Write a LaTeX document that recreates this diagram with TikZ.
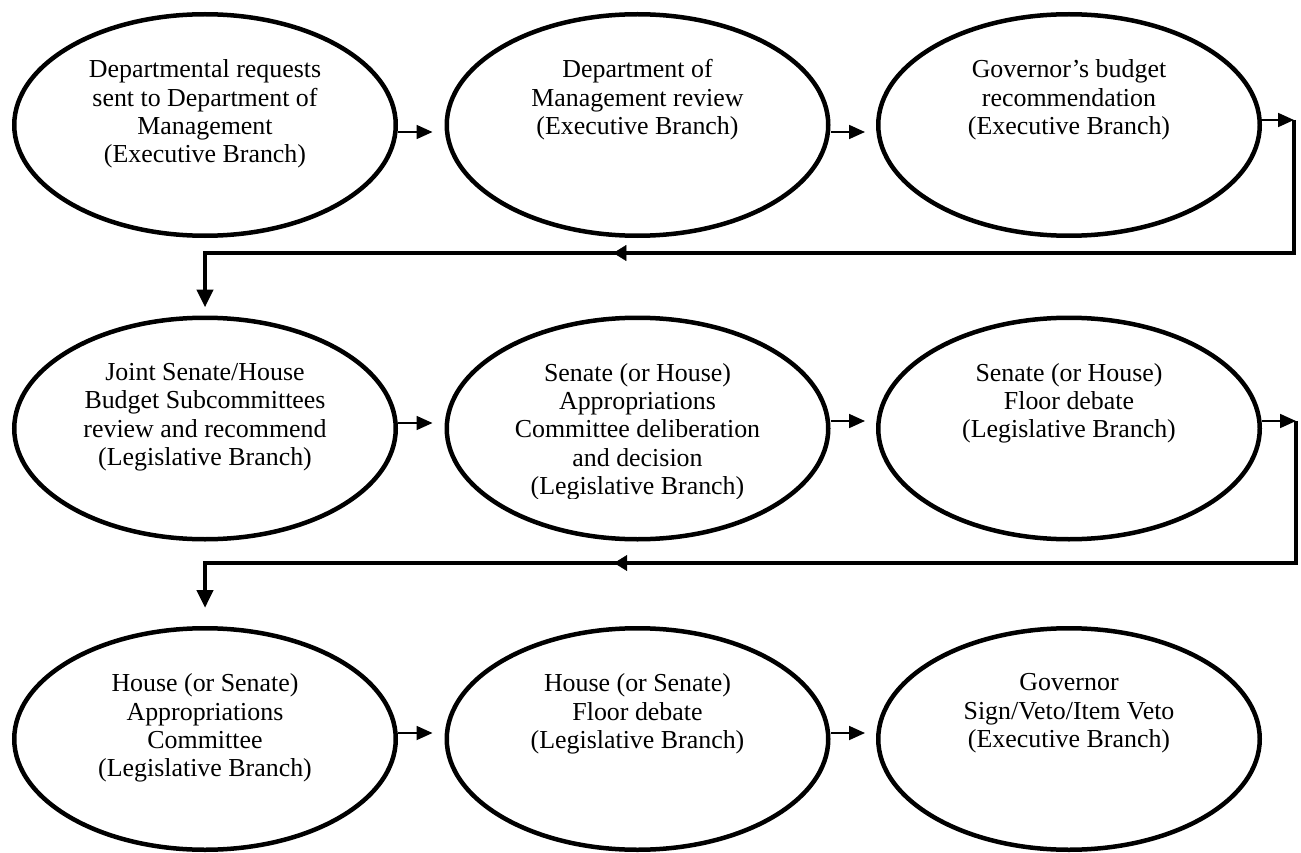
\documentclass[tikz,border=0pt]{standalone}
\usepackage{fontspec}
\setmainfont{Liberation Serif}
\usetikzlibrary{arrows.meta,shapes.geometric,decorations.markings}
\begin{document}
\begin{tikzpicture}[x=1pt,y=-1pt,
  ell/.style={draw, ellipse, line width=4.5pt, minimum width=381.5pt, minimum height=221.5pt, inner sep=0pt},
  lbl/.style={anchor=north, align=center, inner sep=0pt, font=\fontsize{25.9pt}{28.4pt}\selectfont},
  thinarrow/.style={line width=1.8pt, -{Triangle[length=16pt,width=14pt]}},
  heavyarrow/.style={line width=4.8pt, -{Triangle[length=18pt,width=16pt]}},
  midarrow/.style={decorate, decoration={markings, mark=at position #1 with {\arrow{Triangle[length=13pt,width=16pt]}}}}
]
\useasboundingbox (0,0) rectangle (1301,853);

% row 1
\node[ell] (e1) at (205,125) {};
\node[ell] (e2) at (637.5,125) {};
\node[ell] (e3) at (1069,125) {};
% row 2
\node[ell] (e4) at (205,428.5) {};
\node[ell] (e5) at (637.5,428.5) {};
\node[ell] (e6) at (1069,428.5) {};
% row 3
\node[ell] (e7) at (205,739) {};
\node[ell] (e8) at (637.5,739) {};
\node[ell] (e9) at (1069,739) {};

% texts
\node[lbl] (t1) at ([yshift=-47.5pt]e1.north) {Departmental requests\\sent to Department of\\Management\\(Executive Branch)};
\node[lbl] (t2) at ([yshift=-47.5pt]e2.north) {Department of\\Management review\\(Executive Branch)};
\node[lbl] (t3) at ([yshift=-47.5pt]e3.north) {Governor’s budget\\recommendation\\(Executive Branch)};
\node[lbl] (t4) at ([yshift=-47.5pt]e4.north) {Joint Senate/House\\Budget Subcommittees\\review and recommend\\(Legislative Branch)};
\begin{scope}
\clip (440,300) rectangle (840,498);
\node[lbl] (t5) at ([yshift=-47.5pt]e5.north) {Senate (or House)\\Appropriations\\Committee deliberation\\and decision\\(Legislative Branch)};
\end{scope}
\node[lbl] (t6) at ([yshift=-47.5pt]e6.north) {Senate (or House)\\Floor debate\\(Legislative Branch)};
\node[lbl] (t7) at ([yshift=-47.5pt]e7.north) {House (or Senate)\\Appropriations\\Committee\\(Legislative Branch)};
\node[lbl] (t8) at ([yshift=-47.5pt]e8.north) {House (or Senate)\\Floor debate\\(Legislative Branch)};
\node[lbl] (t9) at ([yshift=-47.5pt]e9.north) {Governor\\Sign/Veto/Item Veto\\(Executive Branch)};

% row 1 connectors
\draw[thinarrow, shorten >=12pt] ([yshift=-7pt]e1.east) -- ([yshift=-7pt]e2.west);
\draw[thinarrow, shorten >=11pt] ([yshift=-7pt]e2.east) -- ([yshift=-7pt]e3.west);
\coordinate (r1) at (1294,120);
\coordinate (r1d) at (1294,253);
\coordinate (l1) at (205,253);
\draw[thinarrow] ([yshift=5pt]e3.east) -- (r1);
\draw[heavyarrow, shorten >=8pt] (r1) -- (r1d) -- (l1) -- (e4.north);
\path[midarrow=0.625] (r1d) -- (l1);

% row 2 connectors
\draw[thinarrow, shorten >=12pt] ([yshift=5.5pt]e4.east) -- ([yshift=5.5pt]e5.west);
\draw[thinarrow, shorten >=11pt] ([yshift=7.5pt]e5.east) -- ([yshift=7.5pt]e6.west);
\coordinate (r2) at (1296,421);
\coordinate (r2d) at (1296,563);
\coordinate (l2) at (205,563);
\draw[thinarrow] ([yshift=7.5pt]e6.east) -- (r2);
\draw[heavyarrow, shorten >=18pt] (r2) -- (r2d) -- (l2) -- (e7.north);
\path[midarrow=0.625] (r2d) -- (l2);

% row 3 connectors
\draw[thinarrow, shorten >=12pt] ([yshift=6pt]e7.east) -- ([yshift=6pt]e8.west);
\draw[thinarrow, shorten >=11pt] ([yshift=6pt]e8.east) -- ([yshift=6pt]e9.west);
\end{tikzpicture}
\end{document}
